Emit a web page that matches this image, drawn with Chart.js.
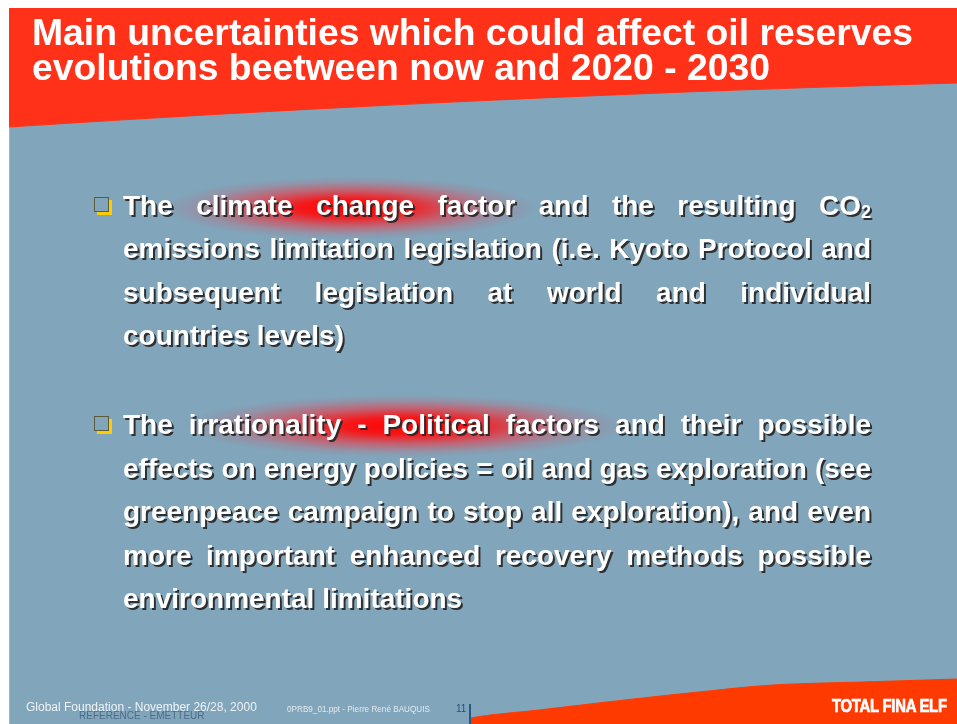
<!DOCTYPE html>
<html>
<head>
<meta charset="utf-8">
<script src="https://cdn.jsdelivr.net/npm/chart.js@4/dist/chart.umd.min.js"></script>
<style>
  html, body { margin: 0; padding: 0; background: #ffffff; }
  body { width: 957px; height: 724px; position: relative; overflow: hidden; font-family: "Liberation Sans", Arial, sans-serif; }
  #slide { position: absolute; left: 9px; top: 8px; width: 948px; height: 716px; background: #81a5bb; border-left: 1px solid #a8b4bc; box-sizing: border-box; }
  #shapes { position: absolute; left: 9px; top: 8px; }
  .abs { position: absolute; }
  #title { left: 32px; top: 14.6px; color: #ffffff; font-weight: bold; font-size: 37.3px; line-height: 35px; white-space: nowrap; }
  .glow { position: absolute; background: radial-gradient(ellipse closest-side, rgba(255,0,0,1) 0%, rgba(255,12,12,0.92) 28%, rgba(245,45,55,0.55) 58%, rgba(225,70,85,0.2) 82%, rgba(225,70,85,0) 100%); }
  .bullet { position: absolute; left: 123px; width: 748px; color: #ffffff; font-weight: bold; font-size: 28px; line-height: 43.5px; text-shadow: 2px 2px 0 rgba(40,40,40,0.95); }
  .bullet div { text-align: justify; text-align-last: justify; }
  .bullet div.last { text-align: left; text-align-last: left; }
  .bullet sub { font-size: 18px; line-height: 0; vertical-align: -3px; }
  .box { position: absolute; width: 13px; height: 13px; border: 1.5px solid #5e5a3c; box-shadow: 3px 3px 0 #ffcc00; }
  .foot { position: absolute; white-space: nowrap; transform-origin: 0 0; }
</style>
</head>
<body>
<div id="slide"></div>
<canvas id="shapes" width="948" height="716"></canvas>

<div id="title" class="abs">Main uncertainties which could affect oil reserves<br>evolutions beetween now and 2020 - 2030</div>

<div class="glow" style="left:165px; top:177px; width:370px; height:62px;"></div>
<div class="glow" style="left:185px; top:395px; width:440px; height:62px;"></div>

<div class="box" style="left:94px; top:197px;"></div>
<div class="bullet" style="top:183.5px;">
  <div>The climate change factor and the resulting CO<sub>2</sub></div>
  <div>emissions limitation legislation (i.e. Kyoto Protocol and</div>
  <div>subsequent legislation at world and individual</div>
  <div class="last">countries levels)</div>
</div>

<div class="box" style="left:94px; top:416px;"></div>
<div class="bullet" style="top:403px;">
  <div>The irrationality - Political factors and their possible</div>
  <div>effects on energy policies = oil and gas exploration (see</div>
  <div>greenpeace campaign to stop all exploration), and even</div>
  <div>more important enhanced recovery methods possible</div>
  <div class="last">environmental limitations</div>
</div>

<div class="foot" style="left:79px; top:710px; font-size:10px; line-height:12px; color:#4d6c8a;">REFERENCE - EMETTEUR</div>
<div class="foot" style="left:26px; top:700px; font-size:12px; line-height:14px; color:#eef2f5;">Global Foundation - November 26/28, 2000</div>
<div class="foot" style="left:287px; top:704px; font-size:8.6px; line-height:10px; color:#e4eaee; transform: scaleX(0.95);">0PRB9_01.ppt - Pierre René BAUQUIS</div>
<div class="foot" style="left:456px; top:703px; font-size:10px; line-height:12px; color:#24507d;">11</div>
<div class="foot" style="left:469px; top:704px; width:1.5px; height:20px; background:#2a5683;"></div>
<div class="foot" style="left:832px; top:696px; font-weight:bold; font-size:17.7px; line-height:20px; color:#ffffff; -webkit-text-stroke:0.7px #ffffff; letter-spacing:-0.3px; transform: scaleX(0.84);">TOTAL FINA ELF</div>

<script>
// Header (red band) lower edge, slide coordinates (x across, y down)
const headerEdgeX = [0, 118, 237, 356, 474, 593, 711, 830, 948];
const headerEdgeY = [119, 111.6, 104.7, 98.4, 92.6, 87.4, 82.7, 78.6, 75];
// Footer swoosh upper edge
const footerEdgeX = [461, 462, 530, 598, 680, 764, 864, 948];
const footerEdgeY = [716, 710, 702, 694, 685, 677, 673.7, 671];
const headerColor = '#ff3219';
const footerColor = '#ff3a00';

const toPts = (xs, ys) => xs.map((x, i) => ({ x: x, y: ys[i] }));

new Chart(document.getElementById('shapes'), {
  type: 'line',
  data: {
    datasets: [
      {
        data: toPts(headerEdgeX, headerEdgeY),
        fill: { value: 0 },
        backgroundColor: headerColor,
        borderColor: headerColor,
        borderWidth: 1,
        pointRadius: 0,
        tension: 0.3
      },
      {
        data: toPts(footerEdgeX, footerEdgeY),
        fill: { value: 716 },
        backgroundColor: footerColor,
        borderColor: footerColor,
        borderWidth: 1,
        pointRadius: 0,
        tension: 0.3
      }
    ]
  },
  options: {
    responsive: false,
    animation: false,
    events: [],
    layout: { padding: 0 },
    plugins: { legend: { display: false }, tooltip: { enabled: false } },
    scales: {
      x: { type: 'linear', min: 0, max: 948, display: false },
      y: { type: 'linear', min: 0, max: 716, reverse: true, display: false }
    }
  }
});
</script>
</body>
</html>
